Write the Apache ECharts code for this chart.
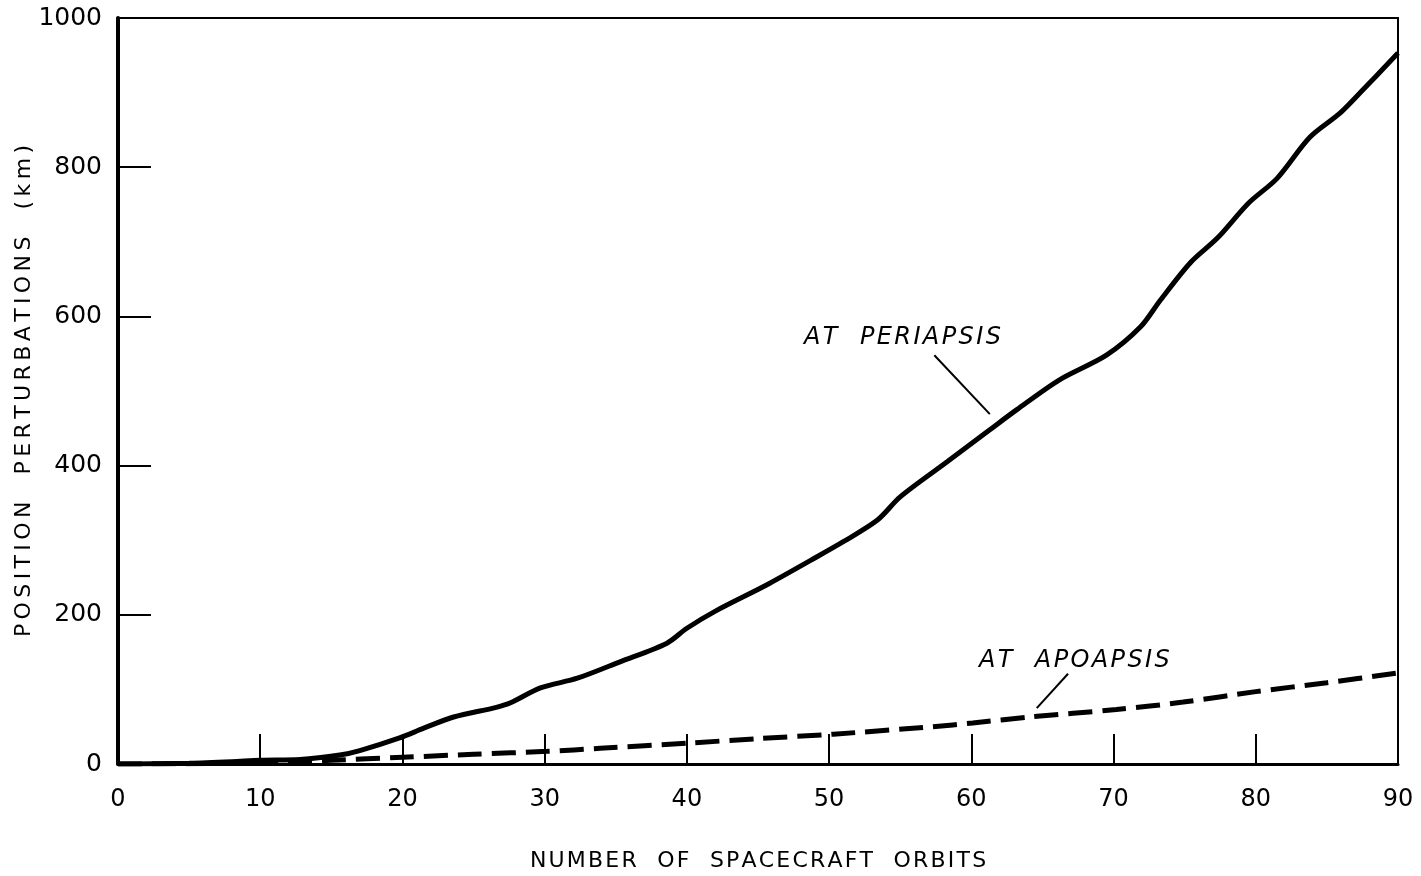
<!DOCTYPE html>
<html>
<head>
<meta charset="utf-8">
<script src="https://cdn.jsdelivr.net/npm/echarts@6/dist/echarts.min.js"></script>
<style>html,body{margin:0;padding:0;background:#fff}#c{width:1421px;height:876px}</style>
</head>
<body>
<div id="c"></div>
<script>
// Data
const periX = [0, 5, 8, 10, 12.8, 15.6, 17, 19.8, 21.5, 23.6, 26.6, 27.6, 29.7, 32.3, 35.3, 38.6, 40, 42.1, 45.6, 48.7, 51, 53.4, 55, 58.3, 61.3, 63.2, 66.2, 69.5, 71.9, 73.3, 75.4, 77.3, 79.5, 81.5, 83.8, 85.9, 87.3, 90];
const periY = [0, 1, 3, 5, 6, 12, 18, 35, 48, 63, 76, 82, 102, 115, 137, 162, 182, 206, 240, 273, 298, 327, 358, 405, 448, 475, 515, 548, 586, 622, 672, 705, 752, 785, 840, 872, 899, 953];
const apoX = [0, 8, 12, 15, 20, 25, 30.2, 33.9, 40.1, 45, 50.3, 57.3, 60.1, 64.1, 70.2, 74.9, 80, 85, 90];
const apoY = [0, 1, 3, 5, 9, 13, 17, 21, 28, 34, 40, 50, 55, 63, 73, 83, 97, 109, 122];
const xTicks = [0, 10, 20, 30, 40, 50, 60, 70, 80, 90];
const yTicks = [0, 200, 400, 600, 800, 1000];
const seriesNames = ['AT  PERIAPSIS', 'AT  APOAPSIS'];
const xTitle = 'NUMBER  OF  SPACECRAFT  ORBITS';
const yTitle = 'POSITION  PERTURBATIONS  (km)';
// annotation anchors in data units: [labelX, labelY, leaderStartX, leaderStartY, leaderEndX, leaderEndY]
const periNote = [48.2, 572, 57.4, 548, 61.3, 469];
const apoNote = [60.5, 139, 66.8, 121, 64.6, 75];

const font = '"DejaVu Sans", "Liberation Sans", sans-serif';
const pairs = (xs, ys) => xs.map((x, i) => [x, ys[i]]);
const spaced = (s, sp) => s.split('').join(sp);

function note(n, text) {
  return {
    markPoint: {
      symbol: 'rect', symbolSize: 1, silent: true,
      itemStyle: {color: 'rgba(0,0,0,0)'},
      label: {show: true, position: 'right', distance: 0, formatter: spaced(text, '\u200A'),
        fontFamily: font, fontStyle: 'italic', fontSize: 24, color: '#000'},
      data: [{coord: [n[0], n[1]]}]
    },
    markLine: {
      symbol: 'none', silent: true, animation: false,
      lineStyle: {color: '#000', width: 2, type: 'solid'},
      label: {show: false},
      data: [[{coord: [n[2], n[3]]}, {coord: [n[4], n[5]]}]]
    }
  };
}

const chart = echarts.init(document.getElementById('c'), null, {renderer: 'canvas'});
chart.setOption({
  animation: false,
  backgroundColor: '#fff',
  grid: {left: 118, top: 18, right: 23, bottom: 112, containLabel: false, outerBoundsMode: 'none',
    show: true, borderColor: '#000', borderWidth: 2},
  xAxis: {
    type: 'value', min: 0, max: 90, interval: 10,
    name: spaced(xTitle, '\u200A'), nameLocation: 'middle', nameGap: 86,
    nameTextStyle: {fontFamily: font, fontSize: 22, color: '#000'},
    axisLine: {show: true, lineStyle: {color: '#000', width: 3}},
    axisTick: {show: true, inside: true, length: 30, lineStyle: {color: '#000', width: 2}},
    axisLabel: {fontFamily: font, fontSize: 24, color: '#000', margin: 24,
      formatter: v => xTicks.includes(v) ? String(v) : ''},
    splitLine: {show: false}
  },
  yAxis: {
    type: 'value', min: 0, max: 1000, interval: 200,
    name: spaced(yTitle, '\u2009'), nameLocation: 'middle', nameGap: 83, nameRotate: 90,
    nameMoveOverlap: false,
    nameTextStyle: {fontFamily: font, fontSize: 22, color: '#000'},
    axisLine: {show: true, lineStyle: {color: '#000', width: 4}},
    axisTick: {show: true, inside: true, length: 33, lineStyle: {color: '#000', width: 2}},
    axisLabel: {fontFamily: font, fontSize: 25, color: '#000', margin: 16,
      formatter: v => yTicks.includes(v) ? String(v) : ''},
    splitLine: {show: false}
  },
  series: [
    Object.assign({
      name: seriesNames[0], type: 'line', data: pairs(periX, periY),
      smooth: 0.3, showSymbol: false, symbol: 'none',
      lineStyle: {color: '#000', width: 5}
    }, note(periNote, seriesNames[0])),
    Object.assign({
      name: seriesNames[1], type: 'line', data: pairs(apoX, apoY),
      smooth: 0.3, showSymbol: false, symbol: 'none',
      lineStyle: {color: '#000', width: 5, type: [24, 10]}
    }, note(apoNote, seriesNames[1]))
  ]
});
</script>
</body>
</html>
